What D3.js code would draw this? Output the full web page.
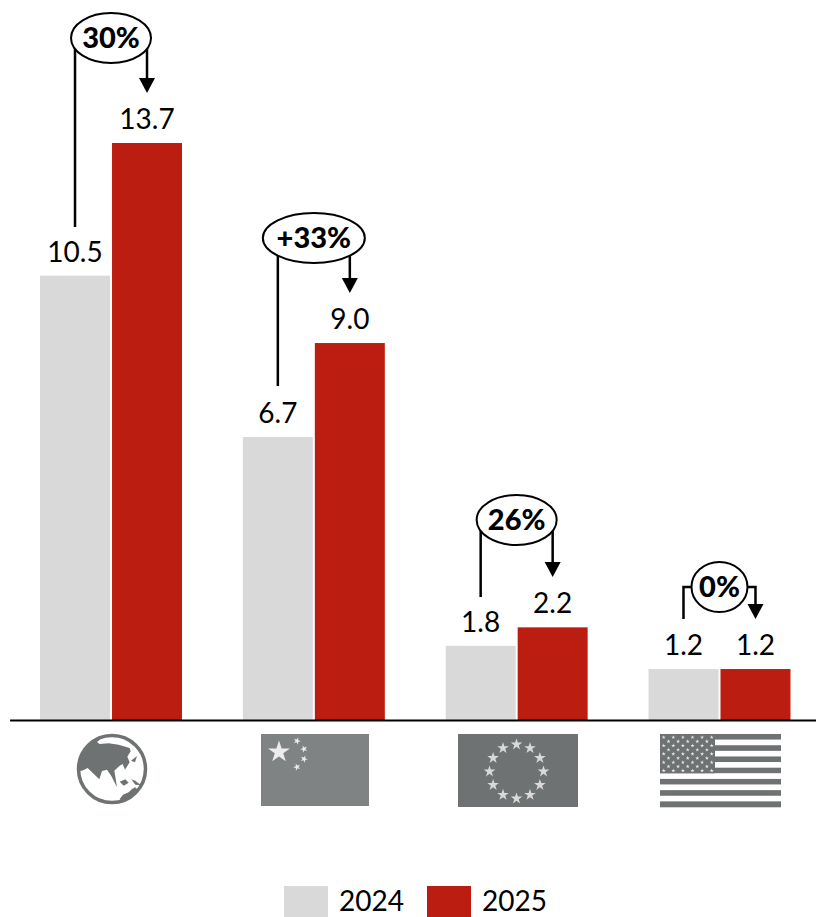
<!DOCTYPE html>
<html>
<head>
<meta charset="utf-8">
<script src="https://cdn.jsdelivr.net/npm/d3@7"></script>
<style>
html, body { margin: 0; padding: 0; background: #fff; }
svg { display: block; }
text { font-family: Lato, "Open Sans", sans-serif; fill: #000; }
</style>
</head>
<body>
<div id="chart"></div>
<script>
var regions = ["Global", "China", "EU", "US"];
var years = ["2024", "2025"];
var values2024 = [10.55, 6.72, 1.76, 1.21];
var values2025 = [13.7, 8.95, 2.2, 1.21];
var labels2024 = ["10.5", "6.7", "1.8", "1.2"];
var labels2025 = ["13.7", "9.0", "2.2", "1.2"];
var growth = ["30%", "+33%", "26%", "0%"];

var colors = { "2024": "#d9d9d9", "2025": "#bb1d10" };
var iconDark = "#6f7272";

var width = 816, height = 917, baseline = 720;

var svg = d3.select("#chart").append("svg")
    .attr("width", width)
    .attr("height", height);

var x0 = d3.scaleBand()
    .domain(regions)
    .range([9.6, 820.9])
    .paddingInner(0.3)
    .paddingOuter(0.15);

var x1 = d3.scaleBand()
    .domain(years)
    .range([0, x0.bandwidth()])
    .paddingInner(0.028);

var y = d3.scaleLinear()
    .domain([0, 13.7])
    .range([baseline, 143]);

function barCenter(region, year) {
    return x0(region) + x1(year) + x1.bandwidth() / 2;
}

// bars
regions.forEach(function (r, i) {
    [values2024[i], values2025[i]].forEach(function (v, j) {
        svg.append("rect")
            .attr("x", x0(r) + x1(years[j]))
            .attr("y", y(v))
            .attr("width", x1.bandwidth())
            .attr("height", baseline - y(v))
            .style("fill", colors[years[j]]);
        svg.append("text")
            .attr("x", barCenter(r, years[j]))
            .attr("y", y(v) - 14)
            .attr("text-anchor", "middle")
            .style("font-size", "28px")
            .text(j == 0 ? labels2024[i] : labels2025[i]);
    });
});

// x axis, only the line
svg.append("g")
    .attr("transform", "translate(0," + baseline + ")")
    .call(d3.axisBottom(x0).tickSize(0).tickFormat(""))
    .call(function (g) {
        g.select(".domain").attr("stroke", "#000").attr("stroke-width", 2);
    });

// growth bubbles and arrows
var bubbleY = [38, 238, 520, 587];
var bubbleRx = [40, 51, 40, 28];
var bubbleRy = [25, 25, 25, 25];
var leftEnd = [227, 386, 597, 619];
var arrowTip = [93, 293, 577, 619];

regions.forEach(function (r, i) {
    var xa = barCenter(r, "2024"), xb = barCenter(r, "2025");
    var cx = (xa + xb) / 2;
    var g = svg.append("g");
    g.append("path")
        .attr("fill", "none")
        .attr("stroke", "#000")
        .attr("stroke-width", 2.5)
        .attr("d", "M" + xa + "," + leftEnd[i] + "V" + bubbleY[i] + "H" + xb + "V" + (arrowTip[i] - 12));
    g.append("path")
        .attr("d", "M" + (xb - 8) + "," + (arrowTip[i] - 15) + "H" + (xb + 8) + "L" + xb + "," + arrowTip[i] + "Z")
        .style("fill", "#000");
    g.append("ellipse")
        .attr("cx", cx)
        .attr("cy", bubbleY[i])
        .attr("rx", bubbleRx[i])
        .attr("ry", bubbleRy[i])
        .style("fill", "#fff")
        .style("stroke", "#000")
        .style("stroke-width", 2);
    g.append("text")
        .attr("x", cx)
        .attr("y", bubbleY[i] + 10)
        .attr("text-anchor", "middle")
        .style("font-size", "29px")
        .style("font-weight", "900")
        .text(growth[i]);
});

// legend
var legendX = [284, 427];
years.forEach(function (yr, i) {
    svg.append("rect")
        .attr("x", legendX[i])
        .attr("y", 886)
        .attr("width", 44)
        .attr("height", 31)
        .style("fill", colors[yr]);
    svg.append("text")
        .attr("x", legendX[i] + 55)
        .attr("y", 911)
        .style("font-size", "28px")
        .text(yr);
});

// icons under the axis
var star = d3.symbol().type(d3.symbolStar);
function addStar(g, cx, cy, size, fill, rot) {
    g.append("path")
        .attr("d", star.size(size)())
        .attr("transform", "translate(" + cx + "," + cy + ") rotate(" + (rot || 0) + ")")
        .style("fill", fill);
}

function globePath(pts) {
    return d3.line()(pts.map(function (p) { return [(p[0] - 335) / 3, (p[1] - 147) / 3]; })) + "Z";
}
var asia = [[225, 152], [245, 152], [262, 144], [275, 157], [297, 178], [305, 153], [320, 149], [333, 168],
    [350, 202], [345, 170], [342, 152], [357, 138], [367, 132], [374, 149], [388, 127], [381, 110], [391, 94],
    [388, 84], [355, 74], [325, 70], [298, 72], [290, 66], [300, 58], [270, 50], [235, 90], [225, 125]];
var australia = [[358, 237], [368, 224], [385, 217], [395, 207], [405, 202], [412, 210], [425, 192], [440, 182],
    [445, 212], [420, 247], [390, 257], [365, 244]];
var islands = [
    [[358, 185], [375, 178], [385, 188], [370, 197]],
    [[393, 178], [405, 182], [422, 196], [405, 194]],
    [[392, 122], [410, 108], [404, 127]]
];
svg.append("clipPath").attr("id", "globe-clip").append("circle").attr("r", 33);
var globe = svg.append("g").attr("transform", "translate(112,769)");
globe.append("circle").attr("r", 33).attr("fill", "#fff");
[asia, australia].concat(islands).forEach(function (pts) {
    globe.append("path").attr("d", globePath(pts)).attr("clip-path", "url(#globe-clip)").style("fill", iconDark);
});
globe.append("circle").attr("r", 33.5).attr("fill", "none").attr("stroke", iconDark).attr("stroke-width", 3.5);

// China flag
var cn = svg.append("g").attr("transform", "translate(261,734)");
cn.append("rect").attr("width", 108).attr("height", 72).style("fill", "#808383");
addStar(cn, 18, 18, 150, "#ececec");
[[36, 7, 20], [43, 15, -20], [43, 25, 20], [36, 33, -20]].forEach(function (s) {
    addStar(cn, s[0], s[1], 16, "#ececec", s[2]);
});

// EU flag
var eu = svg.append("g").attr("transform", "translate(458,734)");
eu.append("rect").attr("width", 120).attr("height", 73).style("fill", iconDark);
d3.range(12).forEach(function (i) {
    var a = i * Math.PI / 6;
    addStar(eu, 58.5 + 27 * Math.sin(a), 37.5 - 27 * Math.cos(a), 42, "#d9d9d9");
});

// US flag
var us = svg.append("g").attr("transform", "translate(660,734)");
d3.range(13).forEach(function (i) {
    us.append("rect")
        .attr("y", i * 73 / 13)
        .attr("width", 121)
        .attr("height", 73 / 13 + 0.3)
        .style("fill", i % 2 == 0 ? iconDark : "#fff");
});
us.append("rect").attr("width", 55).attr("height", 39.3).style("fill", iconDark);
d3.range(9).forEach(function (row) {
    var n = row % 2 == 0 ? 6 : 5;
    d3.range(n).forEach(function (c) {
        addStar(us, 3.7 + (row % 2 == 0 ? 0 : 4.8) + c * 9.6, 3.3 + row * 4.17, 5, "#e8e8e8");
    });
});
</script>
</body>
</html>
